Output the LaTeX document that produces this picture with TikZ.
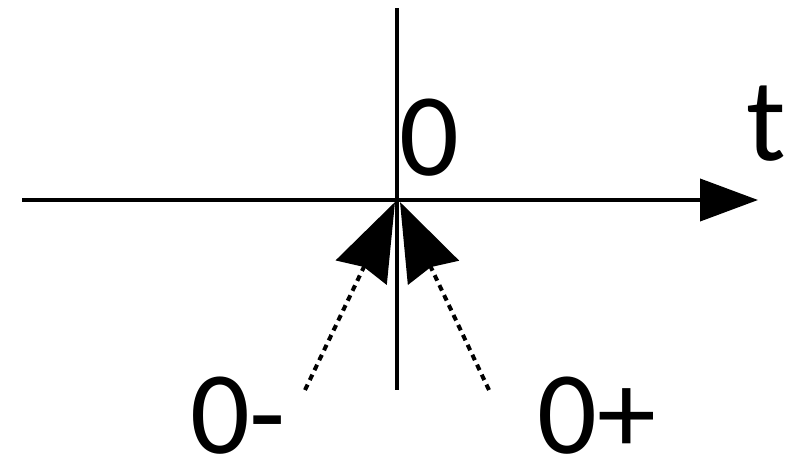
\documentclass[tikz,border=0pt]{standalone}
\usepackage{fontspec}
\setmainfont{Carlito}
\usetikzlibrary{arrows.meta}
\begin{document}
\begin{tikzpicture}[x=1pt,y=-1pt,
  axis/.style={line width=4pt},
  dasharrow/.style={line width=4pt,dash pattern=on 6pt off 5pt,
    -{Stealth[length=78pt,width=56pt,inset=6pt]}},
  lbl/.style={font=\fontsize{118}{118}\selectfont,inner sep=0pt,anchor=base}]
\useasboundingbox (0,0) rectangle (802,463);
\fill[white] (0,0) rectangle (802,463);
\coordinate (hs) at (22,200);
\coordinate (he) at (758,200);
\coordinate (vs) at (397,8);
\coordinate (ve) at (397,390);
\coordinate (ls) at (305,390);
\coordinate (lt) at (395,202);
\coordinate (rs) at (489,390);
\coordinate (rt) at (400,202);
\draw[axis,-{Triangle[length=58pt,width=42pt]}] (hs) -- (he);
\draw[axis] (vs) -- (ve);
\draw[dasharrow] (ls) -- (lt);
\draw[dasharrow] (rs) -- (rt);
\node[lbl] (zero) at (429,175) {0};
\node[lbl] (t) at (766,160) {t};
\node[lbl] (zm) at (238,453) {0-};
\node[lbl] (zp) at (597,453) {0+};
\end{tikzpicture}
\end{document}
